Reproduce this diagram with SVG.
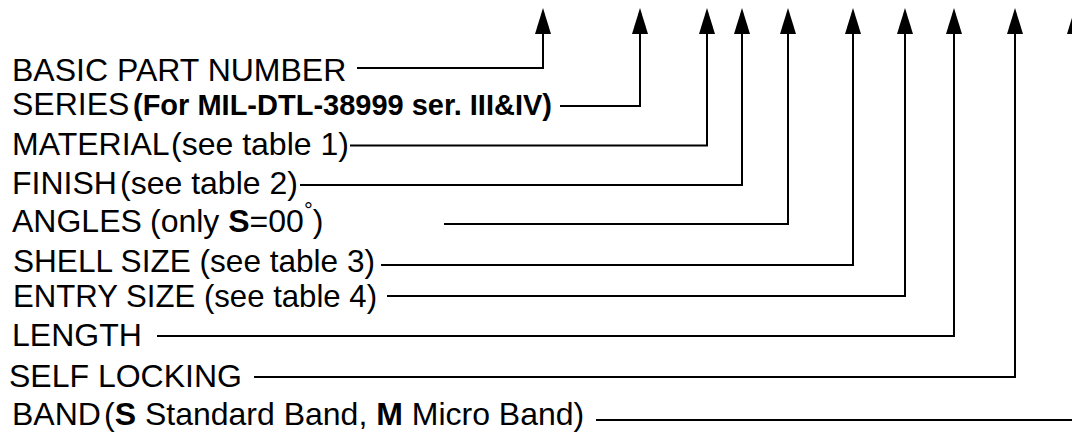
<svg xmlns="http://www.w3.org/2000/svg" width="1072" height="432" viewBox="0 0 1072 432">
<style>
  text { font-family: "Liberation Sans", Arial, sans-serif; font-size: 32px; fill: #000; }
  .b { font-weight: bold; }
  .sb { font-weight: bold; font-size: 29px; }
  .conn path { fill: none; stroke: #000; stroke-width: 2; marker-end: url(#ah); }
</style>
<defs>
  <marker id="ah" viewBox="0 0 26 16" refX="0" refY="8" markerWidth="26" markerHeight="16" markerUnits="userSpaceOnUse" orient="auto">
    <path d="M0,0 L26,8 L0,16 Z" fill="#000"/>
  </marker>
</defs>
<rect width="1072" height="432" fill="#fff"/>
<g class="conn" id="connectors">
  <path d="M357 68 H543 V34"/>
  <path d="M560 106 H640 V34"/>
  <path d="M350 145.5 H707 V34"/>
  <path d="M300 185 H742 V34"/>
  <path d="M444 224 H788 V34"/>
  <path d="M381 265 H853 V34"/>
  <path d="M387 296 H905 V34"/>
  <path d="M157 336 H954 V34"/>
  <path d="M254 377 H1015 V34"/>
  <path d="M596 420 H1075 V34"/>
</g>
<g id="basic"><text x="12" y="81">BASIC PART NUMBER</text></g>
<g id="series"><text x="12" y="115">SERIES<tspan class="sb" x="133">(For MIL-DTL-38999 ser. III&amp;IV)</tspan></text></g>
<g id="material"><text x="12" y="155">MATERIAL<tspan x="171">(see table 1)</tspan></text></g>
<g id="finish"><text x="12" y="194">FINISH<tspan x="120">(see table 2)</tspan></text></g>
<g id="angles"><text x="12" y="232">ANGLES<tspan x="150">(only </tspan><tspan class="b">S</tspan>=00<tspan font-size="22" dy="-14">°</tspan><tspan dy="14">)</tspan></text></g>
<g id="shell"><text x="13" y="272" textLength="362" lengthAdjust="spacingAndGlyphs">SHELL SIZE (see table 3)</text></g>
<g id="entry"><text x="13" y="307" textLength="364" lengthAdjust="spacingAndGlyphs">ENTRY SIZE (see table 4)</text></g>
<g id="length"><text x="12" y="346">LENGTH</text></g>
<g id="selflock"><text x="9" y="387">SELF LOCKING</text></g>
<g id="band"><text x="12" y="425">BAND<tspan x="104">(</tspan><tspan class="b">S</tspan> Standard Band, <tspan class="b">M</tspan> Micro Band)</text></g>
</svg>
